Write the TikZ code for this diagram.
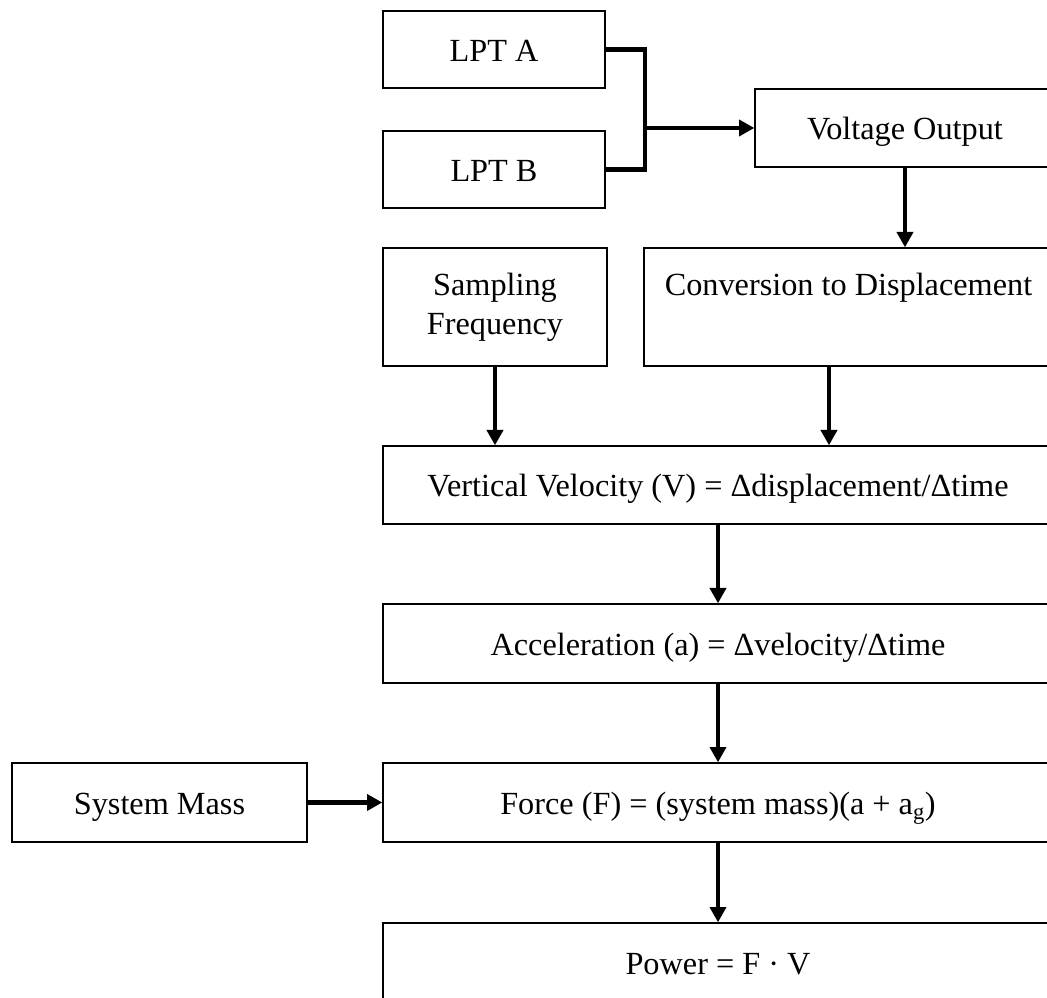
\documentclass[tikz,border=0pt]{standalone}
\usepackage{fontspec}
\setmainfont{Liberation Serif}
\usetikzlibrary{arrows.meta}
\begin{document}
\begin{tikzpicture}[x=0.75pt,y=-0.75pt,
  box/.style={draw, line width=1pt, inner sep=0pt,
    font=\fontsize{24.2}{29.25}\selectfont},
  oneline/.style={text height=18pt, text depth=0pt},
  flow/.style={line width=3.7pt, -{Triangle[length=11.5pt,width=12pt]}},
  bar/.style={line width=3.7pt}]
\fill[white] (0,0) rectangle (1047,998);
\useasboundingbox (0,0) rectangle (1047,998);
\clip (0,0) rectangle (1047,998);

% sensor inputs
\node[box,oneline,minimum width=166.5pt,minimum height=57.75pt] (lptA) at (494,49.5) {LPT A};
\node[box,oneline,minimum width=166.5pt,minimum height=57.75pt] (lptB) at (494,169.5) {LPT B};
\node[box,oneline,minimum width=225pt,minimum height=58.5pt] (volt) at (905,128) {Voltage Output};

% processing chain
\node[box,align=center,minimum width=168pt,minimum height=88.5pt] (samp) at (495,307) {Sampling\\Frequency};
\node[box,align=center,minimum width=306.75pt,minimum height=88.5pt] (conv) at (848.5,307) {Conversion to Displacement\\\vphantom{y}};
\node[box,oneline,minimum width=502.5pt,minimum height=58.5pt] (vel) at (718,485) {Vertical Velocity (V) = Δdisplacement/Δtime};
\node[box,oneline,minimum width=502.5pt,minimum height=59.25pt] (acc) at (718,643.5) {Acceleration (a) = Δvelocity/Δtime};
\node[box,oneline,minimum width=221.25pt,minimum height=59.25pt] (mass) at (159.5,802.5) {System Mass};
\node[box,oneline,minimum width=502.5pt,minimum height=59.25pt] (force) at (718,802.5) {Force (F) = (system mass)(a + a\textsubscript{g})};
\node[box,oneline,minimum width=502.5pt,minimum height=58.5pt] (power) at (718,962) {Power = F · V};

% connectors
\coordinate (jx) at (645,128);
\coordinate (cx) at (829,0);
\draw[bar] (lptA.east) -| (jx) |- (lptB.east);
\draw[flow] (jx) -- (volt.west);
\draw[flow] (volt.south) -- (conv.north -| volt.south);
\draw[flow] (samp.south) -- (vel.north -| samp.south);
\draw[flow] (conv.south -| cx) -- (vel.north -| cx);
\draw[flow] (vel.south) -- (acc.north);
\draw[flow] (acc.south) -- (force.north);
\draw[flow] (mass.east) -- (force.west);
\draw[flow] (force.south) -- (power.north);
\end{tikzpicture}
\end{document}
